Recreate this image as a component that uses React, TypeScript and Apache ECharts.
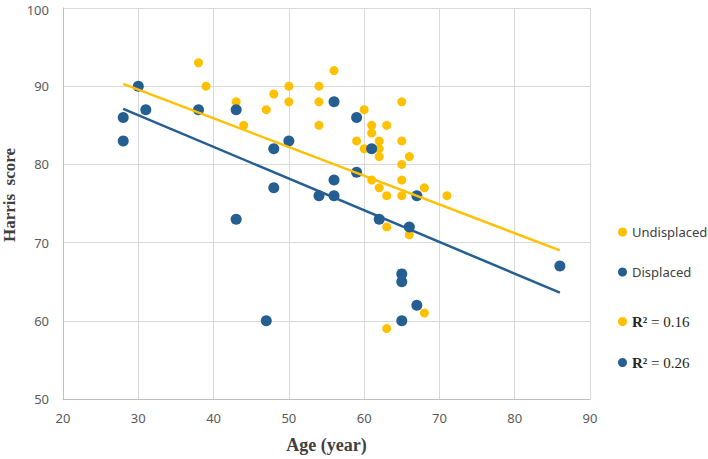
import React, { useEffect, useRef } from "react";
import * as echarts from "echarts";

const undisplaced: [number, number][] = [
  [38, 93], [39, 90], [43, 88], [44, 85], [47, 87], [48, 89], [50, 90], [50, 88],
  [54, 90], [54, 88], [54, 85], [56, 92], [59, 83], [60, 87], [60, 82], [61, 85],
  [61, 84], [61, 78], [62, 83], [62, 82], [62, 81], [62, 77], [63, 85], [63, 76],
  [63, 72], [63, 59], [65, 88], [65, 83], [65, 80], [65, 78], [65, 76], [66, 81],
  [66, 71], [68, 77], [68, 61], [71, 76],
];

const displaced: [number, number][] = [
  [28, 86], [28, 83], [30, 90], [31, 87], [38, 87], [43, 87], [43, 73], [47, 60],
  [48, 82], [48, 77], [50, 83], [54, 76], [56, 88], [56, 78], [56, 76], [59, 86],
  [59, 79], [61, 82], [62, 73], [65, 66], [65, 65], [65, 60], [66, 72], [67, 76],
  [67, 62], [86, 67],
];

const undisplacedTrend: [number, number][] = [[28, 90.3], [86, 69.0]];
const displacedTrend: [number, number][] = [[28, 87.1], [86, 63.6]];

const r2Labels = ["R2a", "R2b"];
const r2Values = ["0.16", "0.26"];

const YELLOW = "#FFC000";
const BLUE = "#255E91";

export default function App() {
  const ref = useRef<HTMLDivElement>(null);
  useEffect(() => {
    if (!ref.current) return;
    const chart = echarts.init(ref.current, undefined, { renderer: "svg" });
    const tickLabel = { color: "#595959", fontSize: 13, fontFamily: "Noto Sans" };
    chart.setOption({
      animation: false,
      backgroundColor: "#ffffff",
      grid: { left: 63, right: 118, top: 7, bottom: 58, containLabel: false },
      xAxis: {
        type: "value",
        min: 20,
        max: 90,
        interval: 10,
        name: "Age (year)",
        nameLocation: "middle",
        nameGap: 37,
        nameTextStyle: { fontFamily: "Liberation Serif", fontWeight: "bold", fontSize: 18, color: "#404040" },
        axisLine: { show: true, lineStyle: { color: "#BFBFBF", width: 1 } },
        axisTick: { show: false },
        splitLine: { show: true, lineStyle: { color: "#D9D9D9", width: 1 } },
        axisLabel: { ...tickLabel, margin: 12 },
      },
      yAxis: {
        type: "value",
        min: 50,
        max: 100,
        interval: 10,
        axisLine: { show: true, lineStyle: { color: "#BFBFBF", width: 1 } },
        axisTick: { show: false },
        splitLine: { show: true, lineStyle: { color: "#D9D9D9", width: 1 } },
        axisLabel: {
          ...tickLabel,
          margin: 14,
          lineHeight: 12,
          formatter: (v: number) => (v === 100 ? `{t|${v}}` : `${v}`),
          rich: { t: { ...tickLabel, lineHeight: 12, padding: [3, 0, 0, 0] } },
        },
      },
      legend: [
        {
          data: ["Undisplaced", "Displaced"],
          orient: "vertical",
          left: 613,
          top: 220,
          icon: "circle",
          itemWidth: 9,
          itemHeight: 9,
          itemGap: 26,
          selectedMode: false,
          textStyle: { color: "#404040", fontSize: 13, fontFamily: "Noto Sans", lineHeight: 14 },
        },
        {
          data: r2Labels,
          orient: "vertical",
          left: 613,
          top: 309,
          icon: "circle",
          itemWidth: 9,
          itemHeight: 9,
          itemGap: 26,
          selectedMode: false,
          formatter: (name: string) => `{b|R²} = ${r2Values[r2Labels.indexOf(name)]}`,
          textStyle: {
            color: "#262626",
            fontSize: 15,
            fontFamily: "Liberation Serif",
            lineHeight: 14,
            rich: { b: { fontWeight: "bold", fontSize: 15, fontFamily: "Liberation Serif", color: "#262626", lineHeight: 14 } },
          },
        },
      ],
      graphic: [
        {
          type: "text",
          x: 9,
          y: 195,
          rotation: Math.PI / 2,
          style: {
            text: "Harris\u00a0 score",
            font: "bold 17px 'Liberation Serif'",
            fill: "#404040",
            textAlign: "center",
            textVerticalAlign: "middle",
          },
        },
      ],
      series: [
        {
          name: "Undisplaced",
          type: "scatter",
          data: undisplaced,
          symbolSize: 9,
          itemStyle: { color: YELLOW, opacity: 1 },
          z: 2,
        },
        {
          name: "Displaced",
          type: "scatter",
          data: displaced,
          symbolSize: 11,
          itemStyle: { color: BLUE, opacity: 1 },
          z: 3,
        },
        {
          name: "UndisplacedTrend",
          type: "line",
          data: undisplacedTrend,
          showSymbol: false,
          symbol: "none",
          lineStyle: { color: YELLOW, width: 2.5 },
          itemStyle: { color: YELLOW },
          z: 4,
        },
        {
          name: "DisplacedTrend",
          type: "line",
          data: displacedTrend,
          showSymbol: false,
          symbol: "none",
          lineStyle: { color: BLUE, width: 2.5 },
          itemStyle: { color: BLUE },
          z: 4,
        },
        { name: "R2a", type: "scatter", data: [], itemStyle: { color: YELLOW, opacity: 1 } },
        { name: "R2b", type: "scatter", data: [], itemStyle: { color: BLUE, opacity: 1 } },
      ],
    });
    return () => chart.dispose();
  }, []);
  return <div ref={ref} style={{ position: "fixed", left: 0, top: 0, width: 708, height: 459 }} />;
}
